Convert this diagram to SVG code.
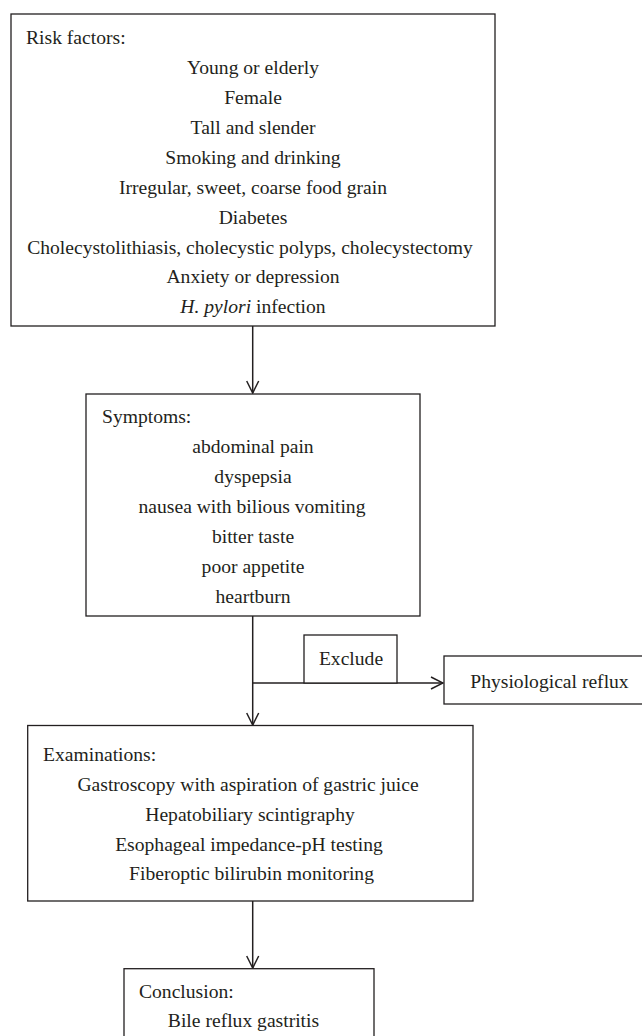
<svg xmlns="http://www.w3.org/2000/svg" width="642" height="1036" viewBox="0 0 642 1036">
<style>
.box{fill:#fff;stroke:#231f20;stroke-width:1.3}
.t{font-family:"Liberation Serif","Times New Roman",serif;font-size:19.6px;fill:#231f20}
.c{text-anchor:middle}
.ln{fill:none;stroke:#231f20;stroke-width:1.5}
</style>
<defs>
<marker id="arr" markerUnits="userSpaceOnUse" markerWidth="14" markerHeight="14" viewBox="0 0 14 14" refX="13" refY="7" orient="auto">
<path d="M1,1 L13,7 L1,13" fill="none" stroke="#231f20" stroke-width="1.5"/>
</marker>
</defs>
<rect width="642" height="1036" fill="#fff"/>
<g id="connectors">
<line class="ln" x1="252.7" y1="326" x2="252.7" y2="393" marker-end="url(#arr)"/>
<line class="ln" x1="252.7" y1="616" x2="252.7" y2="725" marker-end="url(#arr)"/>
<line class="ln" x1="252.7" y1="683" x2="443" y2="683" marker-end="url(#arr)"/>
<line class="ln" x1="252.7" y1="901" x2="252.7" y2="968" marker-end="url(#arr)"/>
</g>
<g id="risk">
<rect class="box" x="11" y="14" width="484" height="312"/>
<text class="t" x="26" y="44">Risk factors:</text>
<text class="t c" x="253" y="74">Young or elderly</text>
<text class="t c" x="253" y="104">Female</text>
<text class="t c" x="253" y="133.5">Tall and slender</text>
<text class="t c" x="253" y="163.5">Smoking and drinking</text>
<text class="t c" x="253" y="193.5">Irregular, sweet, coarse food grain</text>
<text class="t c" x="253" y="223.5">Diabetes</text>
<text class="t c" x="250" y="253.5">Cholecystolithiasis, cholecystic polyps, cholecystectomy</text>
<text class="t c" x="253" y="283">Anxiety or depression</text>
<text class="t c" x="253" y="313"><tspan font-style="italic">H. pylori</tspan> infection</text>
</g>
<g id="symptoms">
<rect class="box" x="86" y="394" width="334" height="222"/>
<text class="t" x="102" y="423.3">Symptoms:</text>
<text class="t c" x="253" y="453.3">abdominal pain</text>
<text class="t c" x="253" y="483.3">dyspepsia</text>
<text class="t c" x="252" y="513.3">nausea with bilious vomiting</text>
<text class="t c" x="253" y="543.3">bitter taste</text>
<text class="t c" x="253" y="573.3">poor appetite</text>
<text class="t c" x="253" y="603.3">heartburn</text>
</g>
<g id="exclude">
<rect class="box" x="304" y="635" width="93" height="48"/>
<text class="t c" x="351" y="665">Exclude</text>
</g>
<g id="physiological">
<rect class="box" x="444" y="656" width="220" height="48"/>
<text class="t c" x="549.5" y="687.5">Physiological reflux</text>
</g>
<g id="examinations">
<rect class="box" x="27.7" y="725.5" width="445.3" height="175.5"/>
<text class="t" x="43" y="761">Examinations:</text>
<text class="t c" x="248" y="791">Gastroscopy with aspiration of gastric juice</text>
<text class="t c" x="250" y="820.7">Hepatobiliary scintigraphy</text>
<text class="t c" x="249" y="850.7">Esophageal impedance-pH testing</text>
<text class="t c" x="251.5" y="880">Fiberoptic bilirubin monitoring</text>
</g>
<g id="conclusion">
<rect class="box" x="124" y="968.7" width="250" height="80"/>
<text class="t" x="139" y="998">Conclusion:</text>
<text class="t c" x="243.5" y="1027">Bile reflux gastritis</text>
</g>
</svg>
